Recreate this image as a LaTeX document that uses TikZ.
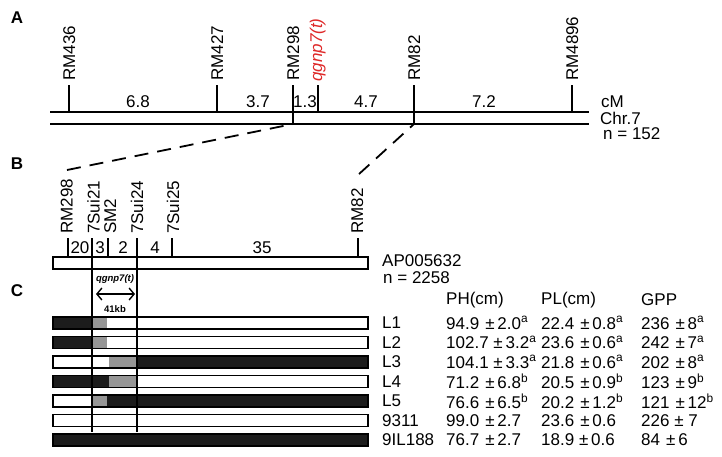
\documentclass[tikz,border=0pt]{standalone}
\usepackage{fontspec}
\setmainfont{Liberation Sans}
\usetikzlibrary{arrows.meta}
\definecolor{qred}{RGB}{222,40,40}
\definecolor{qgray}{RGB}{150,150,150}
\definecolor{qblack}{RGB}{28,28,28}
\begin{document}
\begin{tikzpicture}[x=1pt,y=-1pt,
  every node/.style={inner sep=0pt, font=\fontsize{17}{17}\selectfont},
  mk/.style={rotate=90, anchor=west, text height=12pt, text depth=0pt},
  redmk/.style={mk, text=qred, font=\itshape\fontsize{17}{17}\selectfont, text depth=3.6pt},
  panel/.style={font=\bfseries\fontsize{17}{17}\selectfont},
  chrom/.style={line width=1.8pt},
  tickline/.style={line width=1.8pt},
  vline/.style={line width=1.5pt},
  link/.style={line width=1.8pt, dash pattern=on 14pt off 9pt},
  bar/.style={draw=black, line width=1.3pt},
  rlab/.style={anchor=west},
  tab/.style={anchor=west, font=\fontsize{17}{17}\selectfont},
  small/.style={font=\bfseries\fontsize{9.5}{10}\selectfont}]
\useasboundingbox (0,0) rectangle (722,456);

% ---------------- Panel A ----------------
\node[panel] (pA) at (17,18) {A};
\draw[chrom] (50,112) -- (589,112);
\draw[chrom] (50,124) -- (589,124);
\foreach \x in {69,217,318,572} \draw[tickline] (\x,85) -- (\x,112);
\draw[tickline] (293,85) -- (293,124);
\draw[tickline] (414,85) -- (414,124);
\coordinate (a298) at (293,124);
\coordinate (a82) at (414,124);
\node[mk] (mA1) at (69,81) {RM436};
\node[mk] (mA2) at (217,81) {RM427};
\node[mk] (mA3) at (293,81) {RM298};
\node[redmk] (mA4) at (318,82) {qgnp7(t)};
\node[mk] (mA5) at (414,81) {RM82};
\node[mk] (mA6) at (572,81) {RM4896};
\node (dA1) at (138,102) {6.8};
\node (dA2) at (258,102) {3.7};
\node (dA3) at (305,102) {1.3};
\node (dA4) at (366,102) {4.7};
\node (dA5) at (484,102) {7.2};
\node[rlab] (cm) at (601,102) {cM};
\node[rlab] (chr) at (600,118) {Chr.7};
\node[rlab] (nA) at (603,134) {n = 152};

% ---------------- Panel B ----------------
\node[panel] (pB) at (17,164) {B};
\coordinate (b298) at (67,170);
\coordinate (b82) at (359,174);
\draw[link] (b298) -- (a298);
\draw[link] (b82) -- (a82);
\draw[bar, fill=white] (53,257) rectangle (368,269);
\foreach \x in {68,108,172,358} \draw[tickline] (\x,238) -- (\x,257);
\node[mk] (mB1) at (66.5,234) {RM298};
\node[mk] (mB2) at (93.5,234) {7Sui21};
\node[mk] (mB3) at (110,234) {SM2};
\node[mk] (mB4) at (137,234) {7Sui24};
\node[mk] (mB5) at (173,234) {7Sui25};
\node[mk] (mB6) at (357,234) {RM82};
\node (dB1) at (80,248) {20};
\node (dB2) at (100,248) {3};
\node (dB3) at (123,248) {2};
\node (dB4) at (155,248) {4};
\node (dB5) at (262,248) {35};
\node[rlab] (ap) at (382,261) {AP005632};
\node[rlab] (nB) at (383,278) {n = 2258};

% ---------------- Panel C ----------------
\node[panel] (pC) at (17,291) {C};
\node[small, font=\bfseries\itshape\fontsize{9.5}{10}\selectfont] (qt) at (115,279) {qgnp7(t)};
\coordinate (arL) at (96,294);
\coordinate (arR) at (135,294);
\draw[{Straight Barb[length=5pt,width=12pt]}-{Straight Barb[length=5pt,width=12pt]}, line width=1.4pt] (arL) -- (arR);
\node[small] (kb) at (115,309) {41kb};

% bars
% L1
\fill[qblack] (53,317) rectangle (93,329);
\fill[qgray] (93,317) rectangle (107,329);
\draw[bar] (53,317) rectangle (368,329);
% L2
\fill[qblack] (53,336.5) rectangle (93,348.5);
\fill[qgray] (93,336.5) rectangle (107,348.5);
\draw[bar] (53,336.5) rectangle (368,348.5);
% L3
\fill[qgray] (109,356) rectangle (136,368);
\fill[qblack] (136,356) rectangle (368,368);
\draw[bar] (53,356) rectangle (368,368);
% L4
\fill[qblack] (52,375.5) rectangle (109,387.5);
\fill[qgray] (109,375.5) rectangle (137,387.5);
\draw[bar] (53,375.5) rectangle (368,387.5);
% L5
\fill[qgray] (92,395) rectangle (107,407);
\fill[qblack] (107,395) rectangle (368,407);
\draw[bar] (53,395) rectangle (368,407);
% 9311
\draw[bar] (53,414.5) rectangle (368,426.5);
% 9IL188
\fill[qblack] (53,434) rectangle (368,446);
\draw[bar] (53,434) rectangle (368,446);

\draw[tickline] (92,238) -- (92,269);
\draw[tickline] (137,238) -- (137,269);
\draw[vline] (92,269) -- (92,432);
\draw[vline] (137,269) -- (137,432);

\node[rlab] (l1) at (382,323) {L1};
\node[rlab] (l2) at (382,342.5) {L2};
\node[rlab] (l3) at (382,362) {L3};
\node[rlab] (l4) at (382,381.5) {L4};
\node[rlab] (l5) at (382,401) {L5};
\node[rlab] (l6) at (382,420.5) {9311};
\node[rlab] (l7) at (382,440) {9IL188};

% table
\node[tab] (h1) at (446,300) {PH(cm)};
\node[tab] (h2) at (541,300) {PL(cm)};
\node[tab] (h3) at (641,300) {GPP};

\node[tab] (t11) at (446,323) {94.9\hspace{6pt}±\,2.0\textsuperscript{a}};
\node[tab] (t21) at (446,342.5) {102.7 ±\,3.2\textsuperscript{a}};
\node[tab] (t31) at (446,362) {104.1 ±\,3.3\textsuperscript{a}};
\node[tab] (t41) at (446,381.5) {71.2\hspace{6pt}±\,6.8\textsuperscript{b}};
\node[tab] (t51) at (446,401) {76.6\hspace{6pt}±\,6.5\textsuperscript{b}};
\node[tab] (t61) at (446,420.5) {99.0\hspace{6pt}±\,2.7};
\node[tab] (t71) at (446,440) {76.7\hspace{6pt}±\,2.7};

\node[tab] (t12) at (541,323) {22.4\hspace{6pt}±\,0.8\textsuperscript{a}};
\node[tab] (t22) at (541,342.5) {23.6\hspace{6pt}±\,0.6\textsuperscript{a}};
\node[tab] (t32) at (541,362) {21.8\hspace{6pt}±\,0.6\textsuperscript{a}};
\node[tab] (t42) at (541,381.5) {20.5\hspace{6pt}±\,0.9\textsuperscript{b}};
\node[tab] (t52) at (541,401) {20.2\hspace{6pt}±\,1.2\textsuperscript{b}};
\node[tab] (t62) at (541,420.5) {23.6\hspace{6pt}±\,0.6};
\node[tab] (t72) at (541,440) {18.9 ±\,0.6};

\node[tab] (t13) at (641,323) {236\hspace{6pt}±\,8\textsuperscript{a}};
\node[tab] (t23) at (641,342.5) {242\hspace{6pt}±\,7\textsuperscript{a}};
\node[tab] (t33) at (641,362) {202\hspace{6pt}±\,8\textsuperscript{a}};
\node[tab] (t43) at (641,381.5) {123\hspace{6pt}±\,9\textsuperscript{b}};
\node[tab] (t53) at (641,401) {121\hspace{6pt}±\,12\textsuperscript{b}};
\node[tab] (t63) at (641,420.5) {226 ± 7};
\node[tab] (t73) at (641,440) {84\hspace{6pt}±\,6};
\end{tikzpicture}
\end{document}
